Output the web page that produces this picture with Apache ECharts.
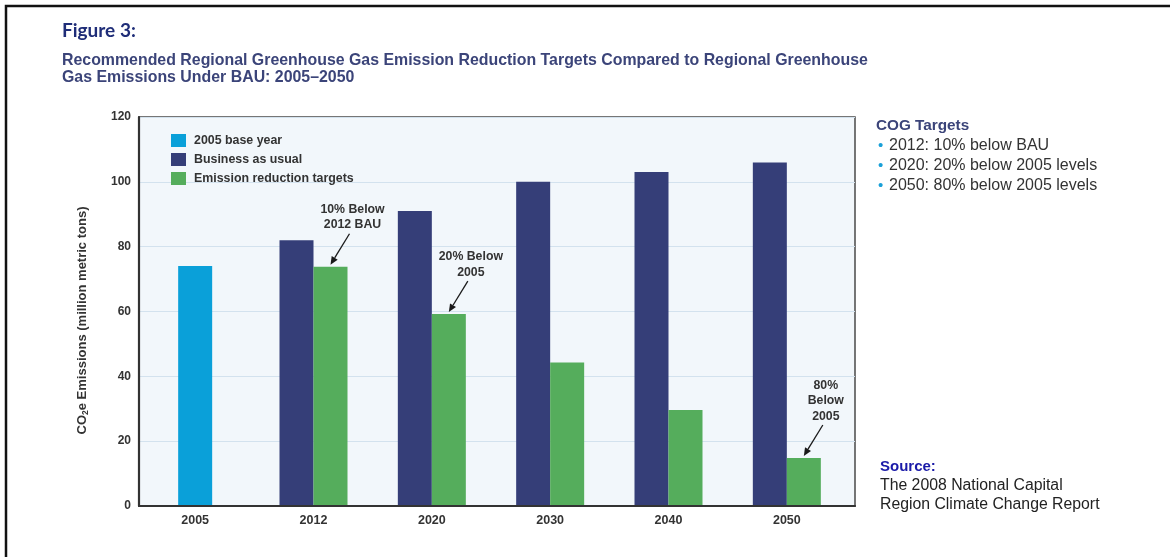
<!DOCTYPE html>
<html>
<head>
<meta charset="utf-8">
<title>Regional Greenhouse Gas Emission Reduction Targets</title>
<script src="https://cdn.jsdelivr.net/npm/echarts@6/dist/echarts.min.js"></script>
<style>
  html, body { margin: 0; padding: 0; background: #ffffff; }
  #chart { width: 1170px; height: 557px; }
</style>
</head>
<body>
<div id="chart"></div>
<script>
// Emissions in million metric tons of CO2e
const categories = ['2005', '2012', '2020', '2030', '2040', '2050'];
const baseYear = [74, '-', '-', '-', '-', '-'];
const businessAsUsual = ['-', 82, 91, 100, 103, 106];
const reductionTargets = ['-', 73.8, 59.2, 44.3, 29.6, 14.8];

// Value axis ticks
const yMin = 0;
const yMax = 120;
const yStep = 20;

// Call-outs on the target bars
const annotationYears = ['2012', '2020', '2050'];
const annotationTexts = ['10% Below\n2012 BAU', '20% Below\n2005', '80%\nBelow\n2005'];

// Side notes
const cogTitle = 'COG Targets';
const cogTargets = ['2012: 10% below BAU', '2020: 20% below 2005 levels', '2050: 80% below 2005 levels'];
const sourceLabel = 'Source:';
const sourceLines = ['The 2008 National Capital', 'Region Climate Change Report'];

const FONT = 'Liberation Sans, Arial, Helvetica, sans-serif';
const NARROW = 'Liberation Sans Narrow, Liberation Sans, Arial, sans-serif';
const BAR_W = 34;
const COLORS = { base: '#0aa0d9', bau: '#353e78', target: '#55ad5c' };

const annotationData = annotationYears.map(y => [y, reductionTargets[categories.indexOf(y)]]);

const chart = echarts.init(document.getElementById('chart'), null, { renderer: 'canvas' });

chart.setOption({
  animation: false,
  backgroundColor: '#ffffff',
  title: [
    {
      text: 'Figure 3:', left: 62, top: 21, padding: 0,
      textStyle: { fontFamily: 'Lato, Open Sans, sans-serif', fontWeight: 'bold', fontSize: 19, color: '#1f2d78' }
    },
    {
      text: 'Recommended Regional Greenhouse Gas Emission Reduction Targets Compared to Regional Greenhouse\nGas Emissions Under BAU: 2005\u20132050',
      left: 62, top: 52, padding: 0,
      textStyle: { fontFamily: FONT, fontWeight: 'bold', fontSize: 15.9, lineHeight: 17, color: '#3b4479' }
    },
    {
      text: '{h|' + cogTitle + '}\n' + cogTargets.map(t => '{d|\u2022}{t|' + t + '}').join('\n'),
      left: 876, top: 116, padding: 0,
      textStyle: {
        rich: {
          h: { fontFamily: FONT, fontSize: 15.3, fontWeight: 'bold', color: '#3b4479', lineHeight: 20 },
          d: { fontFamily: FONT, fontSize: 15, fontWeight: 'normal', color: '#1aa0d8', width: 11, padding: [0, 0, 0, 2], lineHeight: 20 },
          t: { fontFamily: FONT, fontSize: 16, fontWeight: 'normal', color: '#333333', lineHeight: 20 }
        }
      }
    },
    {
      text: '{s|' + sourceLabel + '}\n' + sourceLines.map(t => '{t|' + t + '}').join('\n'),
      left: 880, top: 458, padding: 0,
      textStyle: {
        rich: {
          s: { fontFamily: FONT, fontSize: 15, fontWeight: 'bold', color: '#1a1aa8', lineHeight: 18.5 },
          t: { fontFamily: FONT, fontSize: 15.8, fontWeight: 'normal', color: '#222222', lineHeight: 18.5 }
        }
      }
    }
  ],
  graphic: [
    {
      type: 'rect', z: 100, silent: true,
      shape: { x: 6, y: 6, width: 1400, height: 800 },
      style: { fill: 'none', stroke: '#111111', lineWidth: 2.5 }
    }
  ],
  legend: {
    orient: 'vertical', left: 171, top: 134, padding: 0,
    itemWidth: 15, itemHeight: 13, itemGap: 6, icon: 'rect',
    data: ['2005 base year', 'Business as usual', 'Emission reduction targets'],
    textStyle: { fontFamily: FONT, fontSize: 12.4, fontWeight: 'bold', color: '#333333', padding: [0, 0, 0, 3] }
  },
  grid: [
    // framed plot area carrying the value scale
    { left: 139, right: 315, top: 117, bottom: 51, show: true, backgroundColor: '#f2f7fb', borderColor: '#4a4a4a', borderWidth: 1.5 },
    // bar layout area
    { left: 136, right: 324, top: 117, bottom: 51 }
  ],
  xAxis: [
    {
      gridIndex: 0, type: 'value', min: 0, max: 1, z: 10,
      axisLine: { show: true, lineStyle: { color: '#333333', width: 2.2 } },
      axisTick: { show: false }, axisLabel: { show: false }, splitLine: { show: false }
    },
    {
      gridIndex: 1, type: 'category', data: categories,
      axisLine: { show: false }, axisTick: { show: false },
      axisLabel: { margin: 8, fontFamily: FONT, fontSize: 12.5, fontWeight: 'bold', color: '#333333' }
    },
    {
      gridIndex: 1, type: 'category', data: categories, show: false
    }
  ],
  yAxis: [
    {
      gridIndex: 0, type: 'value', min: yMin, max: yMax, interval: yStep,
      name: '{m|CO}{sub|2}{m|e Emissions (million metric tons)}',
      nameLocation: 'middle', nameGap: 49, nameRotate: 90,
      nameTextStyle: {
        padding: [0, 18, 0, 0],
        rich: {
          m: { fontFamily: NARROW, fontSize: 13, fontWeight: 'bold', color: '#333333' },
          sub: { fontFamily: NARROW, fontSize: 8.5, fontWeight: 'bold', color: '#333333', padding: [7, 0, 0, 0] }
        }
      },
      axisLine: { show: true, lineStyle: { color: '#333333', width: 2.2 } },
      axisTick: { show: false },
      axisLabel: { margin: 8, fontFamily: FONT, fontSize: 12, fontWeight: 'bold', color: '#333333' },
      splitLine: { show: true, lineStyle: { color: '#d3e2ee', width: 1 } }
    },
    {
      gridIndex: 1, type: 'value', min: yMin, max: yMax, interval: yStep, show: false,
      splitLine: { show: false }
    }
  ],
  series: [
    {
      name: '2005 base year', type: 'bar', xAxisIndex: 2, yAxisIndex: 1,
      barWidth: BAR_W, data: baseYear, itemStyle: { color: COLORS.base }, z: 3
    },
    {
      name: 'Business as usual', type: 'bar', xAxisIndex: 1, yAxisIndex: 1,
      barWidth: BAR_W, barGap: '0%', data: businessAsUsual, itemStyle: { color: COLORS.bau }, z: 3
    },
    {
      name: 'Emission reduction targets', type: 'bar', xAxisIndex: 1, yAxisIndex: 1,
      barWidth: BAR_W, barGap: '0%', data: reductionTargets, itemStyle: { color: COLORS.target }, z: 3
    },
    {
      name: 'callouts', type: 'custom', xAxisIndex: 1, yAxisIndex: 1, silent: true, z: 6,
      data: annotationData,
      encode: { x: 0, y: 1 },
      renderItem: function (params, api) {
        const top = api.coord([api.value(0), api.value(1)]);
        // the target bar sits just right of the category centre
        const tipX = top[0] + BAR_W / 2;
        const tipY = top[1] - 2;
        const sx = tipX + 19, sy = tipY - 31;
        const ang = Math.atan2(tipY - sy, tipX - sx);
        const c = Math.cos(ang), s = Math.sin(ang);
        const L = 8, W = 3.5;
        const bx = tipX - L * c, by = tipY - L * s;
        return {
          type: 'group',
          children: [
            { type: 'line', shape: { x1: sx, y1: sy, x2: bx, y2: by }, style: { stroke: '#1a1a1a', lineWidth: 1.3 } },
            { type: 'polygon', shape: { points: [[tipX, tipY], [bx - W * s, by + W * c], [bx + W * s, by - W * c]] }, style: { fill: '#1a1a1a' } },
            {
              type: 'text', x: sx + 3, y: sy - 1,
              style: {
                text: annotationTexts[params.dataIndex], align: 'center', verticalAlign: 'bottom',
                fontFamily: FONT, fontSize: 12.3, fontWeight: 'bold', lineHeight: 15.5, fill: '#333333'
              }
            }
          ]
        };
      }
    }
  ]
});
</script>
</body>
</html>
